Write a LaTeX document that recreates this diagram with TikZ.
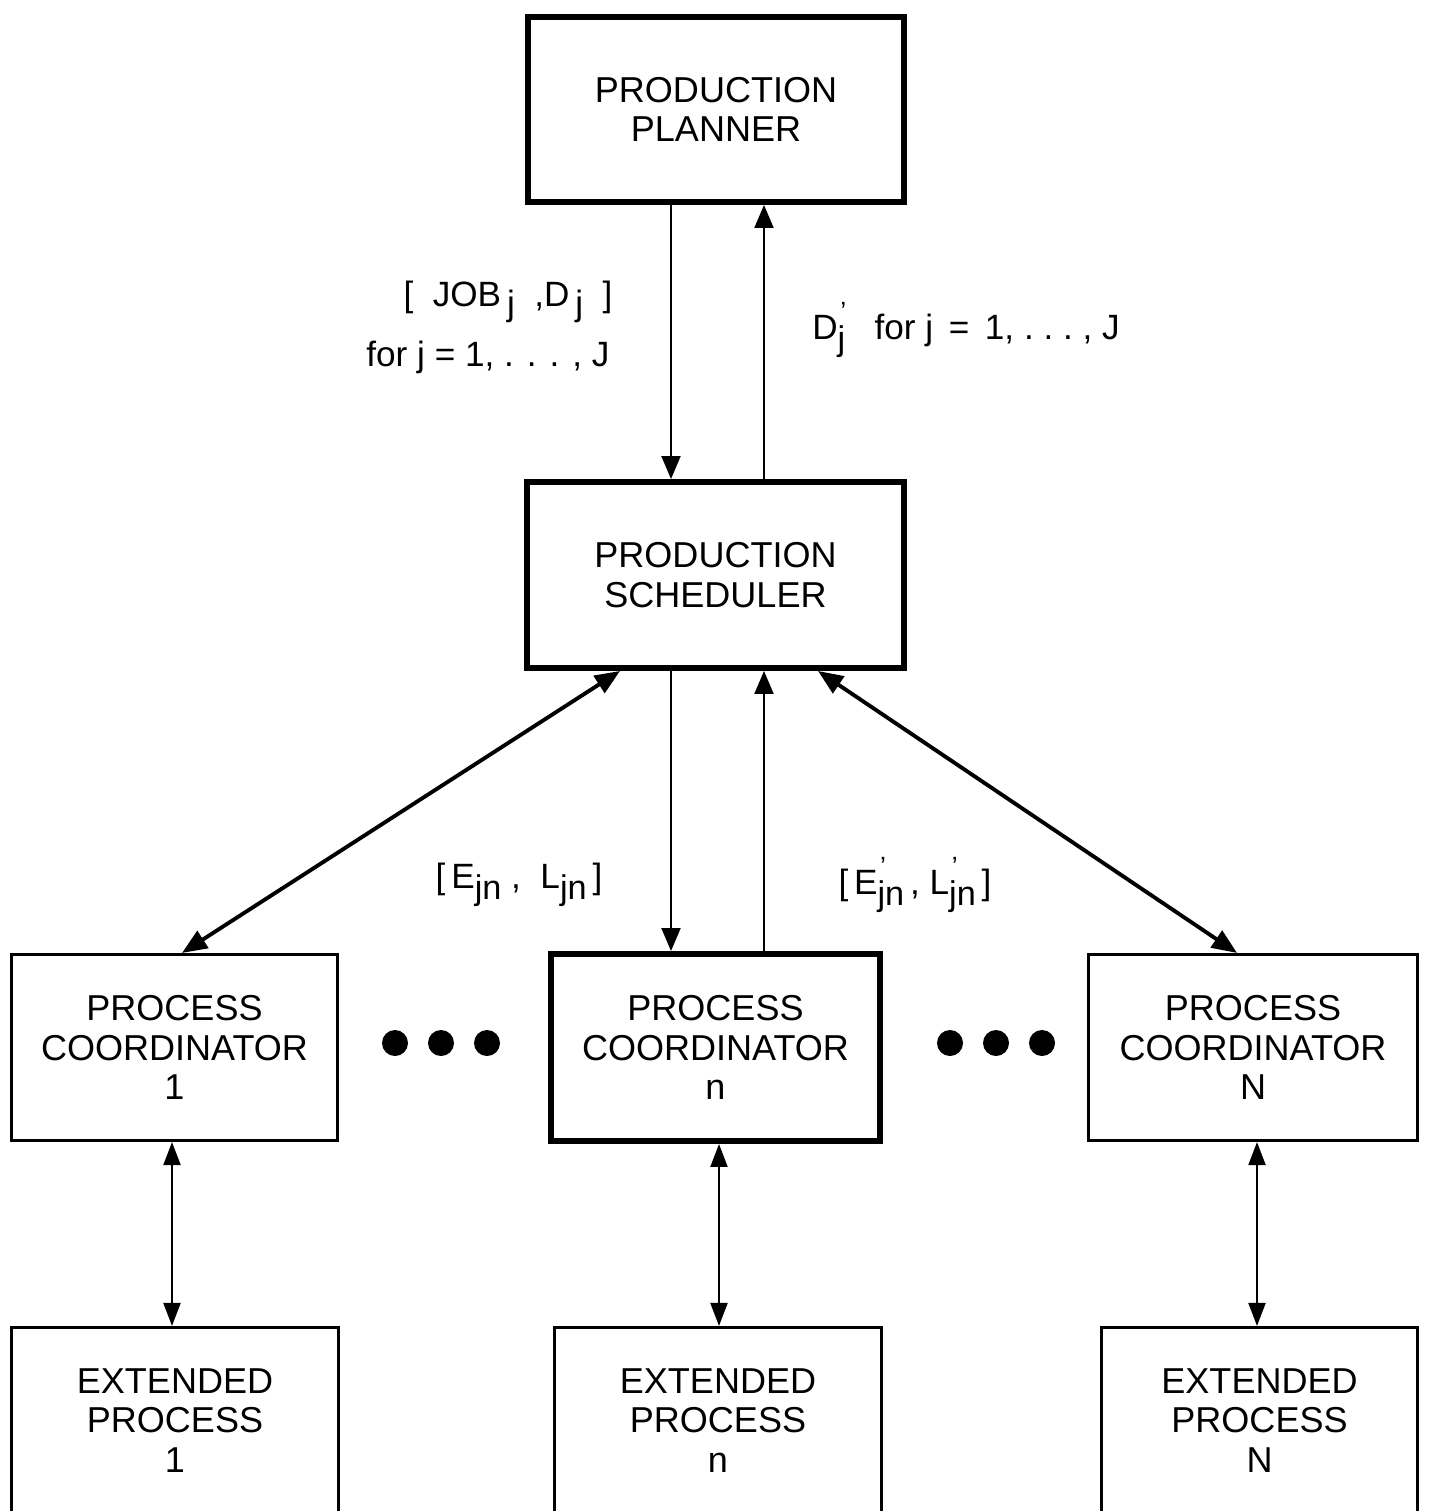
\documentclass[tikz,border=0pt]{standalone}
\usepackage{fontspec}
\setmainfont{Liberation Sans}
\usetikzlibrary{arrows.meta}
\newcommand\boxfnt{\fontsize{20.5}{22.6}\selectfont}
\newcommand\labfnt{\fontsize{20}{22}\selectfont}
\newcommand\lowj[1]{\raisebox{-0.45ex}{#1}}
\newcommand\subs[1]{\raisebox{-0.6ex}{\fontsize{19.5}{19.5}\selectfont #1}}
\newcommand\prsub[1]{\rlap{\raisebox{1.05ex}{\fontsize{15}{15}\selectfont\kern0.1em'}}\raisebox{-0.6ex}{\fontsize{19.5}{19.5}\selectfont #1}}
\begin{document}
\begin{tikzpicture}[x=0.02cm,y=-0.02cm,
  thickbox/.style={draw, line width=3.4pt, align=center, inner sep=0pt, font=\boxfnt},
  thinbox/.style={draw, line width=1.8pt, align=center, inner sep=0pt, font=\boxfnt},
  lab/.style={inner sep=0pt, font=\labfnt},
  arr/.style={line width=1.2pt, -{Triangle[length=0.46cm, width=0.38cm]}},
  darr/.style={line width=2.2pt, {Triangle[length=0.5cm, width=0.4cm]}-{Triangle[length=0.5cm, width=0.4cm]}},
  varr/.style={line width=1.2pt, {Triangle[length=0.46cm, width=0.34cm]}-{Triangle[length=0.46cm, width=0.34cm]}},
  dot/.style={fill=black}]
\useasboundingbox (0,0) rectangle (1436,1511);
\clip (0,0) rectangle (1436,1511);
\fill[white] (0,0) rectangle (1436,1511);

\node[thickbox, minimum width=7.52cm, minimum height=3.70cm] (planner) at (716,109.5) {PRODUCTION\\PLANNER};
\node[thickbox, minimum width=7.54cm, minimum height=3.72cm] (sched) at (715.5,575) {PRODUCTION\\SCHEDULER};
\node[thinbox, minimum width=6.52cm, minimum height=3.72cm] (pc1) at (174.5,1047.5) {PROCESS\\COORDINATOR\\1};
\node[thickbox, minimum width=6.58cm, minimum height=3.74cm] (pcn) at (715.5,1047.5) {PROCESS\\COORDINATOR\\n};
\node[thinbox, minimum width=6.58cm, minimum height=3.72cm] (pcN) at (1253,1047.5) {PROCESS\\COORDINATOR\\N};
\node[thinbox, minimum width=6.54cm, minimum height=3.72cm] (ep1) at (175,1420.5) {EXTENDED\\PROCESS\\1};
\node[thinbox, minimum width=6.54cm, minimum height=3.72cm] (epn) at (718,1420.5) {EXTENDED\\PROCESS\\n};
\node[thinbox, minimum width=6.32cm, minimum height=3.72cm] (epN) at (1259.5,1420.5) {EXTENDED\\PROCESS\\N};

\coordinate (xa) at (671,0);
\coordinate (xb) at (764,0);
\coordinate (dl) at (620,0);
\coordinate (dl2) at (182,0);
\coordinate (dr) at (818,0);
\coordinate (dr2) at (1237,0);
\coordinate (x1) at (172,0);
\coordinate (xn) at (719,0);
\coordinate (xN) at (1257,0);

\draw[arr] (planner.south -| xa) -- (sched.north -| xa);
\draw[arr] (sched.north -| xb) -- (planner.south -| xb);
\draw[arr] (sched.south -| xa) -- (pcn.north -| xa);
\draw[arr] (pcn.north -| xb) -- (sched.south -| xb);
\draw[darr] (sched.south -| dl) -- (pc1.north -| dl2);
\draw[darr] (sched.south -| dr) -- (pcN.north -| dr2);
\draw[varr] (pc1.south -| x1) -- (ep1.north -| x1);
\draw[varr] (pcn.south -| xn) -- (epn.north -| xn);
\draw[varr] (pcN.south -| xN) -- (epN.north -| xN);

\foreach \i/\x in {1/395,2/441,3/487,4/950,5/996,6/1042}
  \fill[dot] (\x,1043) circle[radius=0.26cm] coordinate (dot\i);

\node[lab] (l1) at (508,302) {[\ \ JOB\,\lowj{j}\ \ ,D\,\lowj{j}\ \ ]};
\node[lab] (l2) at (488,357) {for j = 1, . . . , J};
\node[lab, anchor=west] (l3) at (812,330) {D\prsub{j}\ \ \ for j \,=\, 1, .\ .\ .\ , J};
\node[lab] (l4) at (519,885) {[\,E\subs{jn}\ ,\ \ L\subs{jn}\,]};
\node[lab] (l5) at (915,885) {[\,E\prsub{jn}\,,\ L\prsub{jn}\,]};
\end{tikzpicture}
\end{document}
